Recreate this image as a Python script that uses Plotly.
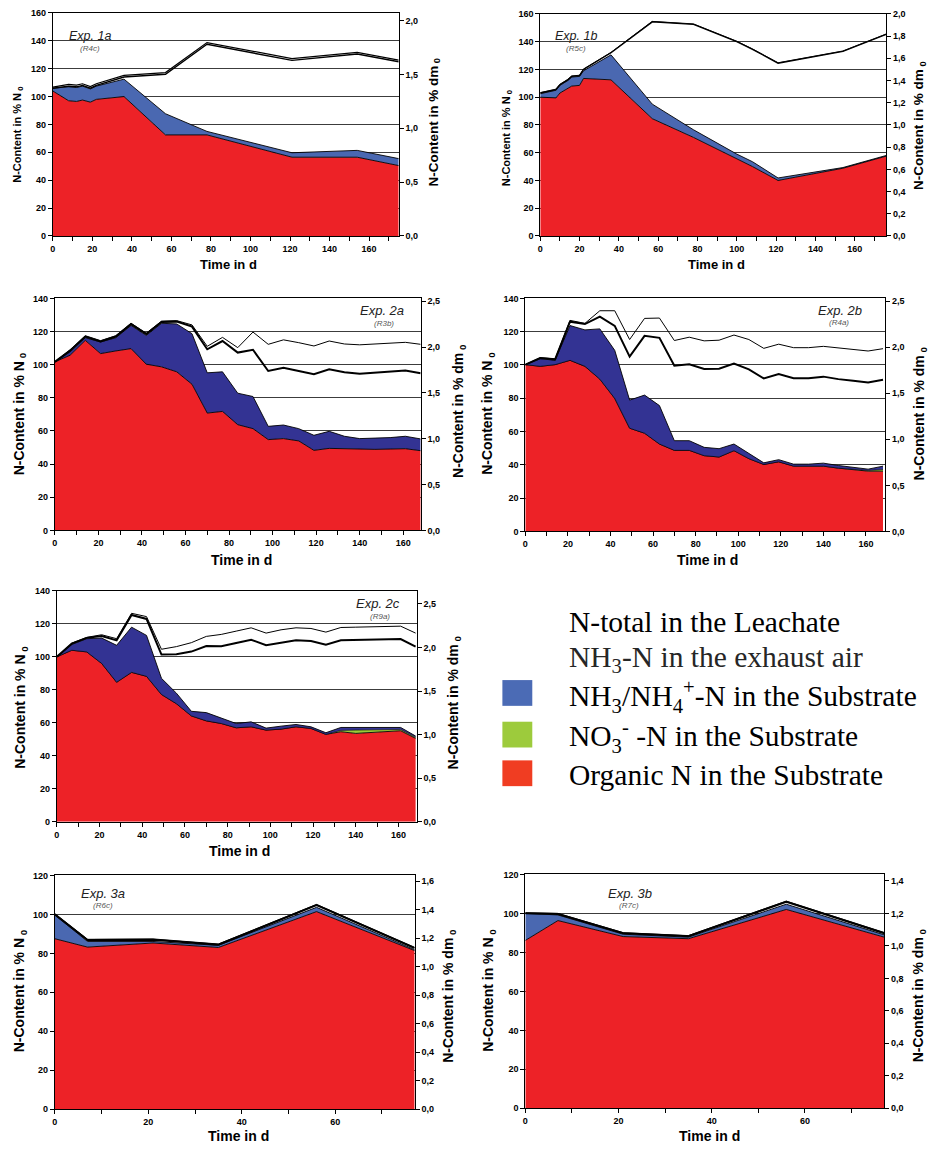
import plotly.graph_objects as go

W, H = 930, 1150

# ---------------- data (levels of the stacked areas, % N0) ----------------
# Exp. 1a (R4c)
d1a = [0, 8, 12, 15, 19, 22, 36, 57, 78, 121, 154, 175]
org1a = [104.0, 97.0, 96.5, 97.5, 96.0, 98.0, 100.0, 72.5, 72.5, 56.5, 56.5, 50.5]
nh4_1a = [106.0, 107.0, 106.5, 107.5, 105.5, 107.5, 112.5, 87.7, 75.0, 59.7, 61.4, 55.5]
exh1a = [106.0, 107.5, 107.0, 108.0, 106.0, 108.0, 114.0, 116.0, 137.5, 126.0, 130.5, 125.0]
lea1a = [106.8, 108.7, 108.2, 109.2, 107.2, 109.2, 115.2, 117.2, 138.7, 127.2, 131.7, 126.2]

# Exp. 1b (R5c)
d1b = [0, 8, 10, 12, 14, 16, 20, 22, 36, 57, 78, 100, 108, 121, 154, 176]
org1b = [100.0, 99.5, 103.0, 104.5, 106.5, 108.0, 108.5, 113.5, 112.5, 84.5, 71.0, 55.5, 50.0, 40.0, 48.8, 57.5]
nh4_1b = [102.5, 105.0, 108.5, 110.0, 112.0, 114.5, 115.0, 119.0, 130.5, 95.0, 76.5, 59.0, 53.5, 41.8, 49.3, 58.0]
exh1b = [103.0, 105.5, 109.0, 110.5, 112.5, 115.0, 115.5, 120.0, 132.0, 154.3, 152.5, 140.0, 134.5, 124.5, 133.0, 145.2]
lea1b = [103.3, 105.8, 109.3, 110.8, 112.8, 115.3, 115.8, 120.3, 132.3, 154.6, 152.8, 140.3, 134.8, 124.8, 133.3, 145.5]

# weekly sampling days for Exp. 2a/2b/2c
d2 = [0, 7, 14, 21, 28, 35, 42, 49, 56, 63, 70, 77, 84, 91, 98, 105, 112, 119, 126, 133, 140, 147, 154, 161, 168]

# Exp. 2a (R3b)
org2a = [101.7, 105.7, 114.7, 106.7, 108.3, 109.7, 100.3, 98.7, 95.7, 88.2, 70.8, 71.8, 63.8, 61.4, 54.8, 55.4, 54.0, 48.3, 49.5, 49.3, 48.7, 48.9, 49.1, 49.3, 48.1]
nh4_2a = [101.7, 107.7, 116.3, 113.7, 116.3, 123.7, 117.7, 125.0, 124.6, 118.7, 95.1, 95.7, 82.8, 80.8, 62.8, 63.6, 61.4, 57.4, 59.8, 56.8, 55.4, 55.6, 56.0, 56.8, 55.2]
exh2a = [101.7, 108.5, 117.0, 114.0, 117.0, 124.5, 118.5, 125.8, 126.0, 123.0, 109.3, 114.3, 107.3, 109.0, 96.2, 98.2, 96.2, 94.3, 97.3, 95.5, 94.5, 95.3, 96.0, 96.5, 94.9]
lea2a = [101.7, 109.0, 117.5, 114.5, 117.5, 125.0, 119.0, 126.3, 126.6, 124.0, 111.1, 116.5, 110.3, 119.7, 112.3, 115.0, 113.3, 111.3, 114.3, 112.5, 112.0, 112.5, 113.0, 113.5, 112.3]

# Exp. 2b (R4a)
org2b = [100.2, 99.2, 100.2, 102.8, 99.2, 91.5, 79.9, 62.0, 59.0, 52.5, 48.7, 48.7, 45.5, 44.7, 48.5, 43.7, 40.2, 41.8, 39.2, 39.2, 39.2, 38.0, 37.2, 36.2, 36.2]
no3_2b = [100.2, 99.2, 100.2, 102.8, 99.2, 91.5, 79.9, 62.0, 59.0, 52.5, 48.7, 48.7, 45.5, 44.7, 48.5, 43.7, 40.2, 41.8, 39.2, 39.2, 39.2, 38.0, 37.2, 36.6, 37.2]
nh4_2b = [100.2, 103.8, 102.8, 123.7, 121.1, 121.7, 108.8, 78.9, 81.9, 75.6, 54.5, 54.5, 50.5, 49.7, 52.5, 47.1, 41.2, 43.1, 40.4, 40.4, 41.0, 39.6, 38.6, 37.4, 39.2]
exh2b = [100.2, 104.2, 103.4, 126.0, 124.6, 129.0, 123.5, 105.0, 117.5, 116.3, 99.6, 100.4, 97.6, 97.8, 100.8, 97.4, 91.9, 94.5, 92.1, 92.1, 93.0, 91.5, 90.5, 89.5, 91.1]
lea2b = [100.2, 104.4, 103.6, 126.8, 125.0, 132.6, 132.6, 115.3, 128.0, 128.2, 114.7, 116.7, 114.5, 114.9, 118.0, 115.3, 110.0, 112.5, 110.4, 110.4, 111.2, 110.2, 109.4, 108.4, 109.8]

# Exp. 2c (R9a)
org2c = [100.0, 104.0, 103.0, 96.0, 84.6, 90.6, 88.2, 77.2, 71.6, 64.2, 61.2, 59.6, 57.0, 57.6, 55.6, 56.2, 57.6, 56.6, 53.0, 54.6, 53.6, 54.0, 54.6, 55.2, 50.6]
no3_2c = [100.0, 104.0, 103.0, 96.0, 84.6, 90.6, 88.2, 77.2, 71.6, 64.2, 61.2, 59.6, 57.0, 57.6, 55.6, 56.2, 57.6, 56.6, 53.0, 55.4, 55.6, 55.7, 55.8, 56.0, 51.2]
nh4_2c = [100.0, 107.5, 111.0, 111.4, 107.0, 118.0, 113.0, 87.0, 78.0, 67.0, 66.2, 63.0, 59.6, 60.6, 56.8, 58.0, 59.0, 57.6, 54.0, 57.2, 57.2, 57.2, 57.2, 57.2, 52.0]
exh2c = [100.0, 108.0, 111.5, 112.6, 110.0, 125.4, 123.0, 101.4, 101.6, 103.2, 106.6, 106.4, 108.4, 110.4, 107.0, 108.6, 110.0, 109.6, 107.4, 110.0, 110.2, 110.4, 110.6, 110.8, 106.2]
lea2c = [100.0, 108.3, 111.8, 113.4, 111.0, 126.4, 124.4, 104.6, 106.2, 108.6, 112.4, 113.6, 115.6, 117.6, 114.4, 116.4, 117.6, 117.2, 115.0, 117.8, 118.0, 118.2, 118.4, 118.6, 114.4]

# Exp. 3a (R6c) / 3b (R7c)
d3 = [0, 7, 21, 35, 56, 77]
org3a = [87.5, 83.2, 85.3, 83.0, 101.4, 81.4]
nh4_3a = [99.7, 86.1, 86.1, 84.1, 103.6, 81.9]
exh3a = [100.0, 86.8, 87.0, 84.4, 104.7, 82.7]
lea3a = [100.3, 87.2, 87.4, 84.8, 105.1, 83.1]

org3b = [86.1, 96.3, 88.1, 87.0, 102.0, 87.8]
nh4_3b = [100.0, 99.2, 89.3, 87.8, 104.7, 89.0]
exh3b = [100.0, 99.7, 89.8, 88.3, 105.9, 89.8]
lea3b = [100.3, 100.0, 90.1, 88.6, 106.3, 90.2]

legend_labels = [
    "N-total in the Leachate",
    "NH<sub>3</sub>-N in the exhaust air",
    "NH<sub>3</sub>/NH<sub>4</sub><sup>+</sup>-N in the Substrate",
    "NO<sub>3</sub><sup>-</sup> -N in the Substrate",
    "Organic N in the Substrate",
]

# ---------------- styling ----------------
RED = "#ed2227"
BLUE_L = "#4a68b1"
BLUE_D = "#333393"
GREEN = "#9acb38"
FONT = "Liberation Sans"

panels = [
    dict(name="Exp. 1a", run="(R4c)", days=d1a, org=org1a, no3=None, nh4=nh4_1a, exh=exh1a, lea=lea1a,
         box=(50, 397, 8, 233), xmax=175, ymax=160, rmax=2.07, rdt=0.5, blue=BLUE_L,
         tpos=(87.5, 31, 87.5, 44), tsize=12.5, ew=1.4, lw=1.2,
         ylt=(15, 131, 11), yrt=(433, 118, 13.5), xt=(226, 262, 13)),
    dict(name="Exp. 1b", run="(R5c)", days=d1b, org=org1b, no3=None, nh4=nh4_1b, exh=exh1b, lea=lea1b,
         box=(539, 886, 9, 233), xmax=176, ymax=160, rmax=2.0, rdt=0.2, blue=BLUE_L,
         tpos=(575, 31, 574.5, 44), tsize=12.5, ew=1.4, lw=1.0,
         ylt=(505, 134, 11), yrt=(920, 122, 13.5), xt=(716, 262, 13)),
    dict(name="Exp. 2a", run="(R3b)", days=d2, org=org2a, no3=None, nh4=nh4_2a, exh=exh2a, lea=lea2a,
         box=(52, 419, 296, 530), xmax=168, ymax=140, rmax=2.53, rdt=0.5, blue=BLUE_D,
         tpos=(380.5, 308.5, 382, 321), tsize=13, ew=2.0, lw=1.0,
         ylt=(17, 412, 14), yrt=(458, 410, 14), xt=(239, 560, 14)),
    dict(name="Exp. 2b", run="(R4a)", days=d2, org=org2b, no3=no3_2b, nh4=nh4_2b, exh=exh2b, lea=lea2b,
         box=(524, 885, 296, 531), xmax=169, ymax=140, rmax=2.53, rdt=0.5, blue=BLUE_D,
         tpos=(839.5, 308, 839, 320), tsize=13, ew=2.0, lw=1.0,
         ylt=(487, 412, 14), yrt=(920, 412, 14), xt=(707, 560, 14)),
    dict(name="Exp. 2c", run="(R9a)", days=d2, org=org2c, no3=no3_2c, nh4=nh4_2c, exh=exh2c, lea=lea2c,
         box=(54, 415, 591, 824), xmax=168.5, ymax=140, rmax=2.65, rdt=0.5, blue=BLUE_D,
         tpos=(376, 604, 378, 617), tsize=13, ew=2.0, lw=1.0,
         ylt=(18, 708, 14), yrt=(452, 704, 14), xt=(237, 853, 14)),
    dict(name="Exp. 3a", run="(R6c)", days=d3, org=org3a, no3=None, nh4=nh4_3a, exh=exh3a, lea=lea3a,
         box=(52, 413, 878, 1114), xmax=77, ymax=120, rmax=1.64, rdt=0.2, blue=BLUE_L,
         tpos=(100.5, 896, 100, 908), tsize=13, ew=2.0, lw=1.0,
         ylt=(17, 994, 14), yrt=(448, 1000, 14), xt=(236, 1141, 14)),
    dict(name="Exp. 3b", run="(R7c)", days=d3, org=org3b, no3=None, nh4=nh4_3b, exh=exh3b, lea=lea3b,
         box=(524, 884, 877, 1113), xmax=77, ymax=120, rmax=1.44, rdt=0.2, blue=BLUE_L,
         tpos=(629.5, 896, 628.5, 908), tsize=13, ew=2.0, lw=1.0,
         ylt=(488, 994, 14), yrt=(919, 999, 14), xt=(709, 1141, 14)),
]


def fx(px):
    return px / W


def fy(py):
    return 1 - py / H


fig = go.Figure()
layout = {}
annotations = []
shapes = []

tickfont = dict(family=FONT, size=9, color="black", weight="bold")

for k, p in enumerate(panels, start=1):
    xid = "x" if k == 1 else f"x{k}"
    yl = "y" if k == 1 else f"y{2 * k - 1}"
    yr = f"y{2 * k}"
    xkey = "xaxis" if k == 1 else f"xaxis{k}"
    ylkey = "yaxis" if k == 1 else f"yaxis{2 * k - 1}"
    yrkey = f"yaxis{2 * k}"

    common = dict(xaxis=xid, hoverinfo="skip", showlegend=False)
    # Organic N
    fig.add_trace(go.Scatter(x=p["days"], y=p["org"], yaxis=yl, mode="lines",
                             line=dict(color="black", width=0.9), fill="tozeroy",
                             fillcolor=RED, **common))
    # NO3-N
    if p["no3"] is not None:
        fig.add_trace(go.Scatter(x=p["days"], y=p["no3"], yaxis=yl, mode="lines",
                                 line=dict(color="black", width=0.6), fill="tonexty",
                                 fillcolor=GREEN, **common))
    # NH3/NH4+-N in substrate
    fig.add_trace(go.Scatter(x=p["days"], y=p["nh4"], yaxis=yl, mode="lines",
                             line=dict(color="black", width=0.9), fill="tonexty",
                             fillcolor=p["blue"], **common))
    # NH3-N in exhaust air (top of its stack)
    fig.add_trace(go.Scatter(x=p["days"], y=p["exh"], yaxis=yl, mode="lines",
                             line=dict(color="black", width=p["ew"]), **common))
    # N-total in leachate (top of total stack)
    fig.add_trace(go.Scatter(x=p["days"], y=p["lea"], yaxis=yl, mode="lines",
                             line=dict(color="black", width=p["lw"]), **common))
    # secondary (dm0) axis carrier
    fig.add_trace(go.Scatter(x=[0], y=[0], yaxis=yr, mode="markers",
                             marker=dict(opacity=0, size=1), **common))

    x0, x1, y0, y1 = p["box"]
    layout[xkey] = dict(domain=[fx(x0), fx(x1)], range=[0, p["xmax"]], anchor=yl,
                        showline=True, linecolor="black", linewidth=1, mirror=True,
                        ticks="outside", ticklen=4, tickcolor="black", tickwidth=1,
                        tick0=0, dtick=20, tickfont=tickfont, showgrid=False, zeroline=False,
                        minor=dict(dtick=10, ticks="outside", ticklen=4, tickcolor="black",
                                   showgrid=False))
    layout[ylkey] = dict(domain=[fy(y1), fy(y0)], range=[0, p["ymax"]], anchor=xid,
                         showline=True, linecolor="black", linewidth=1,
                         ticks="outside", ticklen=4, tickcolor="black", tickwidth=1,
                         tick0=0, dtick=20, tickfont=tickfont,
                         showgrid=True, gridcolor="#3c3c3c", gridwidth=1, zeroline=False)
    layout[yrkey] = dict(overlaying=yl, side="right", anchor=xid, range=[0, p["rmax"]],
                         showline=True, linecolor="black", linewidth=1,
                         ticks="outside", ticklen=4, tickcolor="black", tickwidth=1,
                         tick0=0, dtick=p["rdt"], tickformat=".1f", tickfont=tickfont,
                         showgrid=False, zeroline=False)

    # experiment labels
    tx, ty, rx, ry = p["tpos"]
    annotations.append(dict(x=fx(tx), y=fy(ty), xref="paper", yref="paper",
                            text=f"<i>{p['name']}</i>", showarrow=False,
                            xanchor="center", yanchor="middle",
                            font=dict(family=FONT, size=p["tsize"], color="#222")))
    annotations.append(dict(x=fx(rx), y=fy(ry), xref="paper", yref="paper",
                            text=f"<i>{p['run']}</i>", showarrow=False,
                            xanchor="center", yanchor="middle",
                            font=dict(family=FONT, size=8, color="#555")))
    # axis titles
    lx, ly, ls = p["ylt"]
    annotations.append(dict(x=fx(lx), y=fy(ly), xref="paper", yref="paper",
                            text="N-Content in % N<sub> 0</sub>", textangle=-90,
                            showarrow=False, xanchor="center", yanchor="middle",
                            font=dict(family=FONT, size=ls, color="black", weight="bold")))
    rx_, ry_, rs = p["yrt"]
    annotations.append(dict(x=fx(rx_), y=fy(ry_), xref="paper", yref="paper",
                            text="N-Content in % dm<sub> 0</sub>", textangle=-90,
                            showarrow=False, xanchor="center", yanchor="middle",
                            font=dict(family=FONT, size=rs, color="black", weight="bold")))
    tx_, ty_, ts = p["xt"]
    annotations.append(dict(x=fx(tx_), y=fy(ty_), xref="paper", yref="paper",
                            text="Time in d", showarrow=False,
                            xanchor="center", yanchor="middle",
                            font=dict(family=FONT, size=ts, color="black", weight="bold")))

# ---------------- legend (drawn as text + colour squares) ----------------
leg_y = [622, 660, 698, 738, 777]
leg_col = ["black", "#262626", "black", "black", "black"]
for lab, yy, c in zip(legend_labels, leg_y, leg_col):
    annotations.append(dict(x=fx(566), y=fy(yy), xref="paper", yref="paper", text=lab,
                            showarrow=False, xanchor="left", yanchor="middle",
                            font=dict(family="Liberation Serif", size=29.5, color=c)))
sq = [("#4b6bb5", 681, 707), ("#9dcb3c", 723, 749), ("#f03d22", 762, 788)]
for col, t, b in sq:
    shapes.append(dict(type="rect", xref="paper", yref="paper",
                       x0=fx(501), x1=fx(531), y0=fy(b), y1=fy(t),
                       fillcolor=col, line=dict(width=0)))

fig.update_layout(width=W, height=H, margin=dict(l=0, r=0, t=0, b=0),
                  paper_bgcolor="white", plot_bgcolor="white",
                  separators=", ", showlegend=False,
                  annotations=annotations, shapes=shapes, **layout)

fig.write_html("out.html", config={"displayModeBar": False},
               post_script="document.body.style.margin='0';document.body.style.padding='0';")
